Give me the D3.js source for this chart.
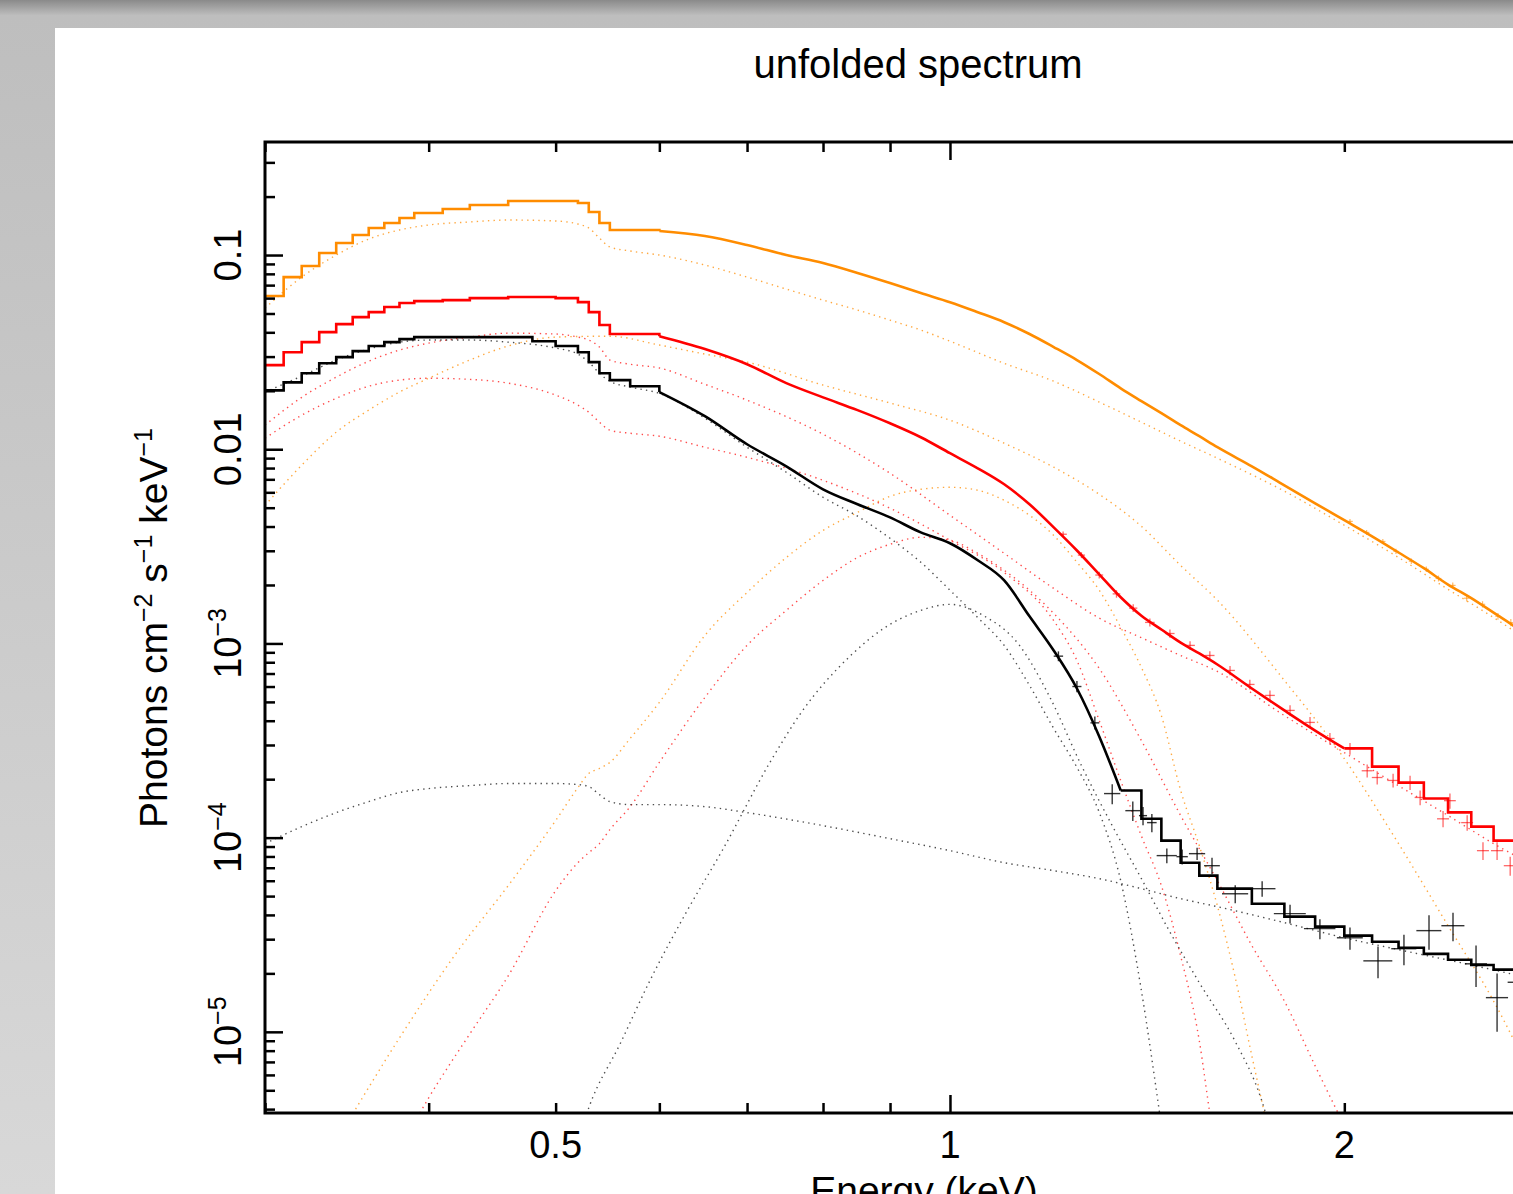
<!DOCTYPE html>
<html>
<head>
<meta charset="utf-8">
<script src="https://cdn.jsdelivr.net/npm/d3@7"></script>
<style>
  body { margin: 0; overflow: hidden; }
  svg { display: block; font-family: "Liberation Sans", Arial, Helvetica, sans-serif; }
</style>
</head>
<body>
<svg id="chart" width="1513" height="1194"></svg>
<script>
// model energies (keV), shared by the three folded models
var modelE = [0.30, 0.31, 0.32, 0.33, 0.34, 0.35, 0.36, 0.37, 0.38, 0.39, 0.41, 0.43, 0.46, 0.48, 0.50, 0.52, 0.53, 0.54, 0.55, 0.57, 0.60,
  0.65, 0.70, 0.75, 0.80, 0.85, 0.90, 0.95, 1.00, 1.05, 1.10, 1.15, 1.20, 1.25, 1.30, 1.35, 1.40, 1.45, 1.50, 1.55, 1.60,
  1.70, 1.80, 1.90, 2.00, 2.10, 2.20, 2.30, 2.40, 2.50, 2.60, 2.70, 2.80, 2.90, 3.00]

var orangeModel = [0.0615, 0.0770, 0.0878, 0.1024, 0.1153, 0.1268, 0.1378, 0.1462, 0.1551, 0.1646, 0.1726, 0.1810, 0.1898, 0.1898, 0.1898, 0.1854, 0.1666, 0.1462, 0.1346, 0.1346, 0.1330,
  0.1253, 0.1126, 0.100, 0.0909, 0.0808, 0.0717, 0.0637, 0.0572, 0.0508, 0.0451, 0.0392, 0.0336, 0.0288, 0.0244, 0.0206, 0.0177, 0.01533, 0.01330, 0.01167, 0.01024,
  0.00817, 0.00652, 0.00527, 0.00431, 0.00356, 0.00294, 0.00244, 0.00201, 0.00171, 0.00144, 0.00122, 0.00104, 0.000899, 0.000779]

var redModel = [0.0271, 0.0316, 0.0356, 0.0401, 0.0441, 0.0479, 0.0508, 0.0540, 0.0566, 0.0579, 0.0586, 0.0600, 0.0608, 0.0608, 0.0600, 0.0572, 0.0508, 0.0436, 0.0392, 0.0392, 0.0382,
  0.0328, 0.0274, 0.0219, 0.0185, 0.0159, 0.0136, 0.01153, 0.00954, 0.00798, 0.00660, 0.00521, 0.00396, 0.00301, 0.00227, 0.00173, 0.00139, 0.00118, 0.00101, 0.000888, 0.000779,
  0.000586, 0.000452, 0.000356, 0.000288, 0.000232, 0.000192, 0.000159, 0.000135, 0.000114, 0.0000965, 0.0000837, 0.0000735, 0.0000645, 0.0000566]

var blackModel = [0.0201, 0.0221, 0.0246, 0.0277, 0.0298, 0.0320, 0.0340, 0.0356, 0.0369, 0.0378, 0.0378, 0.0378, 0.0378, 0.0360, 0.0340, 0.0316, 0.0281, 0.0246, 0.0227, 0.0211, 0.0197,
  0.0148, 0.01061, 0.00817, 0.00622, 0.00521, 0.00446, 0.00373, 0.00328, 0.00268, 0.00211, 0.00138, 0.000920, 0.000586, 0.000332, 0.000175, 0.000125, 0.0000965, 0.0000743, 0.0000637, 0.0000546,
  0.0000457, 0.0000392, 0.0000348, 0.0000313, 0.0000291, 0.0000271, 0.0000252, 0.0000235, 0.0000221, 0.0000209, 0.0000197, 0.0000188, 0.0000179, 0.0000171]

// model components (dotted)
var orangePowE = [0.30, 0.32, 0.34, 0.36, 0.38, 0.40, 0.43, 0.46, 0.50, 0.52, 0.53, 0.54, 0.55, 0.57, 0.60, 0.65, 0.70, 0.75, 0.80, 0.85, 0.90, 0.95, 1.00, 1.10, 1.20, 1.30, 1.40, 1.50, 1.60, 1.80, 2.00, 2.20, 2.40, 2.60, 2.80, 3.00]
var orangePowV = [0.0533, 0.0770, 0.1, 0.1209, 0.1346, 0.1428, 0.1480, 0.1515, 0.1497, 0.1444, 0.1378, 0.1224, 0.1100, 0.1049, 0.1, 0.0888, 0.0770, 0.0668, 0.0586, 0.0521, 0.0462, 0.0411, 0.0360, 0.0277, 0.0224, 0.0175, 0.01378, 0.01100, 0.00899, 0.00608, 0.00406, 0.00277, 0.00190, 0.00136, 0.000977, 0.000735]
var orangeCoolE = [0.30, 0.32, 0.34, 0.36, 0.38, 0.40, 0.43, 0.46, 0.50, 0.55, 0.60, 0.65, 0.70, 0.80, 0.90, 1.00, 1.10, 1.20, 1.30, 1.40, 1.50, 1.60, 1.80, 2.00, 2.20, 2.40, 2.60, 2.80, 2.90]
var orangeCoolV = [0.00514, 0.00827, 0.01224, 0.0159, 0.0197, 0.0232, 0.0288, 0.0340, 0.0378, 0.0382, 0.0344, 0.0309, 0.0281, 0.0214, 0.0173, 0.01411, 0.01074, 0.00808, 0.00586, 0.00401, 0.00252, 0.00167, 0.000645, 0.000255, 0.0000931, 0.0000352, 0.0000144, 0.00000527, 0.00000309]
var orangeHotE = [0.35, 0.38, 0.42, 0.46, 0.50, 0.52, 0.53, 0.54, 0.55, 0.57, 0.60, 0.65, 0.70, 0.75, 0.80, 0.85, 0.90, 0.95, 1.00, 1.05, 1.10, 1.15, 1.20, 1.25, 1.30, 1.35, 1.40, 1.45, 1.50, 1.55, 1.60, 1.65, 1.70, 1.75]
var orangeHotV = [3.78e-6, 9.31e-6, 2.55e-5, 5.66e-5, 1.224e-4, 1.81e-4, 2.14e-4, 2.27e-4, 2.44e-4, 3.24e-4, 4.97e-4, 1.100e-3, 1.83e-3, 2.77e-3, 3.82e-3, 4.73e-3, 5.72e-3, 6.22e-3, 6.37e-3, 6.15e-3, 5.46e-3, 4.57e-3, 3.60e-3, 2.62e-3, 1.88e-3, 1.209e-3, 7.52e-4, 4.25e-4, 1.75e-4, 9.09e-5, 4.46e-5, 1.94e-5, 7.52e-6, 3.09e-6]

var redPowE = [0.30, 0.32, 0.34, 0.36, 0.38, 0.40, 0.43, 0.46, 0.50, 0.52, 0.53, 0.54, 0.55, 0.57, 0.60, 0.65, 0.70, 0.80, 0.90, 1.00, 1.10, 1.20, 1.30, 1.40, 1.50, 1.60, 1.80, 2.00, 2.20, 2.40, 2.60, 2.80, 3.00]
var redPowV = [0.01330, 0.0185, 0.0235, 0.0284, 0.0324, 0.0352, 0.0378, 0.0396, 0.0392, 0.0378, 0.0365, 0.0336, 0.0288, 0.0274, 0.0262, 0.0216, 0.0179, 0.01195, 0.00752, 0.00457, 0.00291, 0.00192, 0.00135, 0.00107, 0.000867, 0.000717, 0.000425, 0.000274, 0.000185, 0.000130, 0.0000931, 0.0000709, 0.0000546]
var redCoolE = [0.30, 0.32, 0.34, 0.36, 0.38, 0.40, 0.43, 0.46, 0.50, 0.52, 0.53, 0.54, 0.55, 0.57, 0.60, 0.65, 0.70, 0.80, 0.90, 1.00, 1.10, 1.20, 1.25, 1.30, 1.35, 1.40, 1.45, 1.50, 1.55, 1.58, 1.60]
var redCoolV = [0.0114, 0.01497, 0.0183, 0.0211, 0.0227, 0.0232, 0.0229, 0.0219, 0.0190, 0.01686, 0.01551, 0.01378, 0.01253, 0.01209, 0.01167, 0.01024, 0.00909, 0.00692, 0.00497, 0.00340, 0.00232, 0.00131, 0.000817, 0.000401, 0.000197, 0.000102, 0.0000566, 0.0000246, 0.00000899, 0.00000369, 0.00000216]
var redHotE = [0.39, 0.40, 0.43, 0.46, 0.50, 0.52, 0.53, 0.54, 0.55, 0.57, 0.60, 0.65, 0.70, 0.75, 0.80, 0.85, 0.90, 0.95, 1.00, 1.05, 1.10, 1.15, 1.20, 1.30, 1.40, 1.50, 1.60, 1.70, 1.80, 1.90, 2.00]
var redHotV = [3.40e-6, 4.57e-6, 9.76e-6, 1.94e-5, 5.33e-5, 7.43e-5, 8.37e-5, 9.31e-5, 1.100e-4, 1.444e-4, 2.44e-4, 5.27e-4, 9.77e-4, 1.480e-3, 2.11e-3, 2.77e-3, 3.24e-3, 3.52e-3, 3.40e-3, 2.91e-3, 2.38e-3, 1.88e-3, 1.428e-3, 7.43e-4, 3.16e-4, 1.30e-4, 6.00e-5, 2.78e-5, 1.44e-5, 6.68e-6, 3.28e-6]

var blackPowE = [0.30, 0.32, 0.34, 0.36, 0.38, 0.40, 0.43, 0.46, 0.50, 0.52, 0.53, 0.54, 0.55, 0.57, 0.60, 0.65, 0.70, 0.80, 0.90, 1.0, 1.1, 1.2, 1.3, 1.4, 1.5, 1.6, 1.8, 2.0, 2.2, 2.5, 3.0]
var blackPowV = [9.31e-5, 1.139e-4, 1.345e-4, 1.533e-4, 1.706e-4, 1.789e-4, 1.854e-4, 1.899e-4, 1.899e-4, 1.876e-4, 1.832e-4, 1.666e-4, 1.533e-4, 1.479e-4, 1.479e-4, 1.444e-4, 1.345e-4, 1.153e-4, 9.88e-5, 8.57e-5, 7.43e-5, 6.76e-5, 6.15e-5, 5.46e-5, 4.85e-5, 4.41e-5, 3.65e-5, 3.05e-5, 2.65e-5, 2.21e-5, 1.666e-5]
var blackCoolE = [0.30, 0.32, 0.34, 0.36, 0.38, 0.40, 0.43, 0.46, 0.50, 0.52, 0.53, 0.54, 0.55, 0.57, 0.60, 0.65, 0.70, 0.75, 0.80, 0.85, 0.90, 0.95, 1.00, 1.05, 1.10, 1.15, 1.20, 1.25, 1.30, 1.35, 1.40, 1.45]
var blackCoolV = [0.0197, 0.0238, 0.0288, 0.0328, 0.0356, 0.0365, 0.0365, 0.0356, 0.0332, 0.0309, 0.0281, 0.0246, 0.0224, 0.0209, 0.0194, 0.01444, 0.01024, 0.00761, 0.00566, 0.00452, 0.00348, 0.00262, 0.00188, 0.00136, 0.000977, 0.000608, 0.000365, 0.000230, 0.000135, 0.0000600, 0.0000163, 0.00000328]
var blackHotE = [0.52, 0.53, 0.56, 0.59, 0.63, 0.67, 0.73, 0.77, 0.84, 0.89, 0.95, 1.00, 1.06, 1.13, 1.19, 1.26, 1.33, 1.40, 1.47, 1.55, 1.65, 1.73, 1.77]
var blackHotV = [2.74e-6, 4.06e-6, 8.67e-6, 1.83e-5, 4.20e-5, 8.57e-5, 2.49e-4, 4.41e-4, 8.67e-4, 1.195e-3, 1.480e-3, 1.589e-3, 1.394e-3, 9.77e-4, 5.40e-4, 2.35e-4, 1.153e-4, 6.15e-5, 3.32e-5, 1.79e-5, 8.99e-6, 4.41e-6, 2.58e-6]

// unfolded data points: energy, half bin width, flux, flux error
var blackDataE = [1.21, 1.25, 1.29, 1.330, 1.379, 1.404, 1.426, 1.464, 1.504, 1.544, 1.585, 1.651, 1.731, 1.818, 1.916, 2.020, 2.122, 2.221, 2.321, 2.421, 2.521, 2.616, 2.71]
var blackDataEerr = [0.01, 0.01, 0.01, 0.019, 0.018, 0.010, 0.012, 0.026, 0.015, 0.022, 0.022, 0.038, 0.041, 0.051, 0.053, 0.046, 0.054, 0.049, 0.051, 0.049, 0.049, 0.051, 0.045]
var blackDataV = [8.6e-4, 6.0e-4, 3.9e-4, 1.686e-4, 1.377e-4, 1.298e-4, 1.195e-4, 8.08e-5, 7.98e-5, 8.27e-5, 7.17e-5, 5.14e-5, 5.46e-5, 4.06e-5, 3.40e-5, 3.05e-5, 2.32e-5, 2.68e-5, 3.32e-5, 3.52e-5, 2.24e-5, 1.50e-5, 1.8e-5]
var blackDataVerr = [5e-5, 4e-5, 3e-5, 2.0e-5, 1.6e-5, 1.4e-5, 1.3e-5, 7e-6, 7e-6, 6e-6, 7e-6, 5.5e-6, 5e-6, 4.5e-6, 4e-6, 4e-6, 4.3e-6, 4.8e-6, 6.7e-6, 5.9e-6, 5.4e-6, 5e-6, 6e-6]

var redDataE = [1.22, 1.26, 1.30, 1.34, 1.38, 1.421, 1.472, 1.525, 1.579, 1.636, 1.694, 1.755, 1.818, 1.883, 1.950, 2.020, 2.082, 2.119, 2.179, 2.245, 2.285, 2.379, 2.408, 2.482, 2.552, 2.616, 2.677, 2.748, 2.846, 2.933]
var redDataEerr = [0.008, 0.008, 0.009, 0.009, 0.01, 0.012, 0.012, 0.013, 0.013, 0.014, 0.014, 0.015, 0.015, 0.016, 0.016, 0.017, 0.02, 0.02, 0.022, 0.022, 0.022, 0.025, 0.025, 0.026, 0.027, 0.028, 0.03, 0.03, 0.032, 0.034]
var redDataV = [3.65e-3, 2.85e-3, 2.25e-3, 1.80e-3, 1.52e-3, 1.283e-3, 1.125e-3, 9.77e-4, 8.67e-4, 7.26e-4, 6.15e-4, 5.40e-4, 4.52e-4, 3.92e-4, 3.24e-4, 2.87e-4, 2.21e-4, 2.04e-4, 1.97e-4, 1.92e-4, 1.61e-4, 1.25e-4, 1.55e-4, 1.195e-4, 8.57e-5, 8.57e-5, 7.17e-5, 6.76e-5, 6.00e-5, 5.02e-5]
var redDataVerr = [1.2e-4, 1.0e-4, 9e-5, 8e-5, 7e-5, 6e-5, 5.5e-5, 5e-5, 4.5e-5, 4e-5, 3.5e-5, 3.2e-5, 2.8e-5, 2.6e-5, 2.2e-5, 2.0e-5, 1.7e-5, 1.6e-5, 1.6e-5, 1.6e-5, 1.4e-5, 1.2e-5, 1.4e-5, 1.1e-5, 9e-6, 9e-6, 8e-6, 8e-6, 7.5e-6, 7e-6]

var orangeDataE = [2.02, 2.08, 2.14, 2.19, 2.25, 2.31, 2.36, 2.42, 2.48, 2.55, 2.62, 2.68, 2.76, 2.84, 2.92]
var orangeDataEerr = [0.01, 0.01, 0.01, 0.01, 0.01, 0.01, 0.012, 0.012, 0.012, 0.012, 0.012, 0.012, 0.014, 0.014, 0.014]
var orangeDataV = [4.25e-3, 3.73e-3, 3.35e-3, 2.98e-3, 2.65e-3, 2.41e-3, 2.16e-3, 1.99e-3, 1.71e-3, 1.59e-3, 1.38e-3, 1.28e-3, 1.125e-3, 9.65e-4, 8.67e-4]
var orangeDataVerr = [1.2e-4, 1.1e-4, 1.0e-4, 9e-5, 8.5e-5, 8e-5, 7.5e-5, 7e-5, 6.5e-5, 6e-5, 5.5e-5, 5.5e-5, 5e-5, 4.5e-5, 4.2e-5]

// tick labels
var xLabelValues = [0.5, 1, 2]
var xLabelText = ["0.5", "1", "2"]
var yLabelValues = [0.1, 0.01, 1e-3, 1e-4, 1e-5]
var yLabelBase = ["0.1", "0.01", "10", "10", "10"]
var yLabelExp = ["", "", "\u22123", "\u22124", "\u22125"]

var colors = {orange: "#ff8c00", red: "#ff0000", black: "#000000"}

function drawChart(){
  var svg = d3.select("#chart"),
      left = 265, right = 1575, top = 142, bottom = 1113

  var defs = svg.append("defs")
  var grad = defs.append("linearGradient").attr("id", "bg")
    .attr("x1", 0).attr("y1", 0).attr("x2", 0).attr("y2", 1)
  grad.append("stop").attr("offset", "0").attr("stop-color", "#8a8a8a")
  grad.append("stop").attr("offset", "0.013").attr("stop-color", "#bebebe")
  grad.append("stop").attr("offset", "1").attr("stop-color", "#d8d8d8")
  defs.append("clipPath").attr("id", "plotClip").append("rect")
    .attr("x", left).attr("y", top).attr("width", right - left).attr("height", bottom - top)

  svg.append("rect").attr("width", 1513).attr("height", 1194).attr("fill", "url(#bg)")
  svg.append("rect").attr("x", 55).attr("y", 28).attr("width", 1458).attr("height", 1166).attr("fill", "#fff")

  var x = d3.scaleLog().domain([0.3, 3]).range([left, right])
  var y = d3.scaleLog().domain([3.82e-6, 0.382]).range([bottom, top])

  var line = d3.line()
    .x(function(d) { return x(d[0]) })
    .y(function(d) { return y(d[1]) })

  var plot = svg.append("g").attr("clip-path", "url(#plotClip)")

  // dotted model components
  function component(E, V, color, opacity){
    plot.append("path")
      .datum(d3.zip(E, V))
      .attr("fill", "none")
      .attr("stroke", color)
      .attr("stroke-opacity", opacity)
      .attr("stroke-width", 1.4)
      .attr("stroke-dasharray", "1.4,4.2")
      .attr("d", line.curve(d3.curveMonotoneX))
  }
  component(orangePowE, orangePowV, colors.orange, 0.75)
  component(orangeCoolE, orangeCoolV, colors.orange, 0.75)
  component(orangeHotE, orangeHotV, colors.orange, 0.75)
  component(redPowE, redPowV, colors.red, 0.7)
  component(redCoolE, redCoolV, colors.red, 0.7)
  component(redHotE, redHotV, colors.red, 0.7)
  component(blackPowE, blackPowV, "#222", 0.8)
  component(blackCoolE, blackCoolV, "#222", 0.8)
  component(blackHotE, blackHotV, "#222", 0.8)

  // data crosses
  function crosses(E, dE, V, dV, color, width, opacity){
    var g = plot.append("g").attr("stroke", color).attr("stroke-width", width).attr("stroke-opacity", opacity)
    var idx = d3.range(E.length)
    g.selectAll(".xe").data(idx).enter().append("line")
      .attr("x1", function(i) { return x(E[i] - dE[i]) })
      .attr("x2", function(i) { return x(E[i] + dE[i]) })
      .attr("y1", function(i) { return y(V[i]) })
      .attr("y2", function(i) { return y(V[i]) })
    g.selectAll(".ye").data(idx).enter().append("line")
      .attr("x1", function(i) { return x(E[i]) })
      .attr("x2", function(i) { return x(E[i]) })
      .attr("y1", function(i) { return y(V[i] - dV[i]) })
      .attr("y2", function(i) { return y(V[i] + dV[i]) })
  }
  crosses(orangeDataE, orangeDataEerr, orangeDataV, orangeDataVerr, colors.orange, 1.2, 0.6)
  crosses(redDataE, redDataEerr, redDataV, redDataVerr, colors.red, 1.3, 0.6)
  crosses(blackDataE, blackDataEerr, blackDataV, blackDataVerr, colors.black, 1.4, 0.8)

  // folded model: binned steps at low/high energy, fine bins in between
  function model(V, color, stepLow, stepHigh){
    var pts = d3.zip(modelE, V)
    var parts = [
      [pts.filter(function(d) { return d[0] <= stepLow }), d3.curveStepAfter],
      [pts.filter(function(d) { return d[0] >= stepLow && d[0] <= stepHigh }), d3.curveMonotoneX],
      [pts.filter(function(d) { return d[0] >= stepHigh }), d3.curveStepAfter]
    ]
    parts.forEach(function(p){
      if (p[0].length < 2) return
      plot.append("path")
        .datum(p[0])
        .attr("fill", "none")
        .attr("stroke", color)
        .attr("stroke-width", 2.6)
        .attr("d", line.curve(p[1]))
    })
  }
  model(orangeModel, colors.orange, 0.60, 3.0)
  model(redModel, colors.red, 0.60, 2.0)
  model(blackModel, colors.black, 0.60, 1.35)

  // frame
  svg.append("rect")
    .attr("x", left).attr("y", top).attr("width", right - left).attr("height", bottom - top)
    .attr("fill", "none").attr("stroke", "#000").attr("stroke-width", 3)

  // ticks
  var xt = x.ticks(), yt = y.ticks()
  function isDecade(d) { return Math.abs(Math.log10(d) - Math.round(Math.log10(d))) < 1e-6 }
  var xMajor = xt.filter(isDecade)
  var xMinor = xt.filter(function(d) { return !isDecade(d) })
  var yMajor = yt.filter(isDecade)
  var yMinor = yt.filter(function(d) { return !isDecade(d) })

  function ticks(axis, pos, values, size){
    var g = svg.append("g").attr("transform", pos)
      .call(axis.tickValues(values).tickSizeInner(-size).tickSizeOuter(0).tickFormat(""))
    g.select(".domain").remove()
    g.selectAll("line").attr("stroke-width", 2.5)
  }
  ticks(d3.axisLeft(y), "translate(" + left + ",0)", yMajor, 18)
  ticks(d3.axisLeft(y), "translate(" + left + ",0)", yMinor, 10)
  ticks(d3.axisRight(y), "translate(" + right + ",0)", yMajor, 18)
  ticks(d3.axisRight(y), "translate(" + right + ",0)", yMinor, 10)
  ticks(d3.axisBottom(x), "translate(0," + bottom + ")", xMajor, 18)
  ticks(d3.axisBottom(x), "translate(0," + bottom + ")", xMinor, 10)
  ticks(d3.axisTop(x), "translate(0," + top + ")", xMajor, 18)
  ticks(d3.axisTop(x), "translate(0," + top + ")", xMinor, 10)

  // tick labels
  svg.append("g").selectAll("text").data(xLabelValues).enter().append("text")
    .attr("x", function(d) { return x(d) })
    .attr("y", 1158)
    .attr("text-anchor", "middle")
    .attr("font-size", 38)
    .text(function(d, i) { return xLabelText[i] })

  yLabelValues.forEach(function(v, i){
    var t = svg.append("text")
      .attr("transform", "translate(241," + y(v) + ") rotate(-90)")
      .attr("text-anchor", "middle")
      .attr("font-size", 38)
    t.append("tspan").text(yLabelBase[i])
    if (yLabelExp[i]) t.append("tspan").attr("font-size", 25).attr("dy", -15).text(yLabelExp[i])
  })

  // titles
  svg.append("text")
    .attr("x", 918).attr("y", 78)
    .attr("text-anchor", "middle")
    .attr("font-size", 40)
    .text("unfolded spectrum")

  svg.append("text")
    .attr("x", 924).attr("y", 1204)
    .attr("text-anchor", "middle")
    .attr("font-size", 39)
    .text("Energy (keV)")

  var ytitle = svg.append("text")
    .attr("transform", "translate(167,628) rotate(-90)")
    .attr("text-anchor", "middle")
    .attr("font-size", 39)
  var pieces = [["Photons cm", 0], ["\u22122", 1], [" s", 0], ["\u22121", 1], [" keV", 0], ["\u22121", 1]]
  pieces.forEach(function(p, i){
    if (p[1]) ytitle.append("tspan").attr("font-size", 25).attr("dy", -15).text(p[0])
    else ytitle.append("tspan").attr("dy", i == 0 ? 0 : 15).text(p[0])
  })
}

drawChart()
</script>
</body>
</html>
